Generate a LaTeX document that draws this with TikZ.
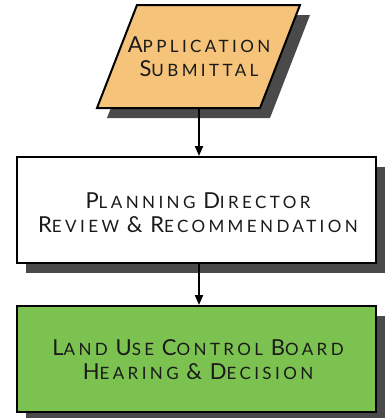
\documentclass[tikz,border=0pt]{standalone}
\usepackage{fontspec}
\newfontfamily\lblfont[LetterSpace=20]{Lato}
\usetikzlibrary{arrows.meta}
\definecolor{appfill}{HTML}{F5C37A}
\definecolor{greenfill}{HTML}{7CC250}
\definecolor{shadowgray}{HTML}{4A4A4A}
\definecolor{txt}{HTML}{1A1A1A}
\newcommand{\capsw}[2]{{\fontsize{22}{25}\selectfont #1}{\fontsize{17}{25}\selectfont #2}}
\begin{document}
\begin{tikzpicture}[x=1pt,y=-1pt,
  boxline/.style={draw=black, line width=2pt},
  shadowfill/.style={fill=shadowgray},
  stagebox/.style={boxline, rectangle, minimum width=359pt, minimum height=106pt, inner sep=0pt},
  lbl/.style={align=center, font=\lblfont\fontsize{17}{24}\selectfont, text=txt, inner sep=0pt},
  flow/.style={draw=black, line width=2pt, -{Triangle[width=8pt,length=10pt]}}]
\useasboundingbox (0,0) rectangle (386,418);
% shadows
\fill[shadowfill] (147,15) -- (310,15) -- (270,118) -- (107,118) -- cycle;
\fill[shadowfill] (26,167) rectangle (385,273);
\fill[shadowfill] (26,316) rectangle (385,422);
% parallelogram
\path[boxline, fill=appfill] (137,5) -- (300,5) -- (260,108) -- (97,108) -- cycle;
\node[lbl] (app) at (199,57) {\capsw{A}{PPLICATION}\\\capsw{S}{UBMITTAL}};
\coordinate (appbot) at (199,108);
% boxes
\node[stagebox, fill=white] (pd) at (196.5,210) {};
\node[lbl] (pdtext) at (198,213) {\capsw{P}{LANNING} \capsw{D}{IRECTOR}\\\capsw{R}{EVIEW} \capsw{\&}{} \capsw{R}{ECOMMENDATION}};
\node[stagebox, fill=greenfill] (lu) at (196.5,359) {};
\node[lbl] (lutext) at (198,360) {\capsw{L}{AND} \capsw{U}{SE} \capsw{C}{ONTROL} \capsw{B}{OARD}\\\capsw{H}{EARING} \capsw{\&}{} \capsw{D}{ECISION}};
% connectors
\draw[flow] (appbot) -- ([xshift=2.5pt]pd.north);
\draw[flow] ([xshift=2.5pt]pd.south) -- ([xshift=2.5pt]lu.north);
\end{tikzpicture}
\end{document}
